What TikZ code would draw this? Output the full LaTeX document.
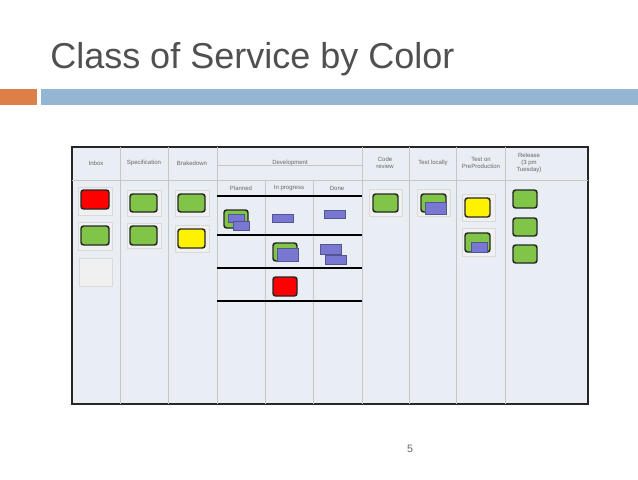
\documentclass[tikz,border=0pt]{standalone}
\usepackage{fontspec}
\setmainfont{Liberation Sans}
\begin{document}
\begin{tikzpicture}[x=0.75pt,y=-0.75pt,
  hdr/.style={font=\fontsize{4.5}{5}\selectfont,text=black!60,align=center,inner sep=0},
  frm/.style={fill=gray!12,draw=gray!30,line width=0.3pt},
  crd/.style={draw=black!85,line width=1.1pt,rounded corners=2pt},
  thick line/.style={line width=1.4pt}]
\definecolor{gcard}{RGB}{128,196,72}
\definecolor{tcard}{RGB}{120,120,210}
\definecolor{board}{RGB}{233,237,244}
\definecolor{obar}{RGB}{221,128,71}
\definecolor{bbar}{RGB}{148,182,210}
\definecolor{ttl}{RGB}{80,80,80}
\tikzset{gc/.style={crd,fill=gcard},tsk/.style={fill=tcard,draw=tcard!70!black,line width=0.3pt}}
\useasboundingbox (0,0) rectangle (638,479);
\fill[white] (0,0) rectangle (638,479);
\node[anchor=base west,inner sep=0,font=\fontsize{27}{30}\selectfont,text=ttl] (title) at (50,68) {Class of Service by Color};
\fill[obar] (0,89) rectangle (37,105);
\fill[bbar] (41,89) rectangle (638,105);
% board
\draw[fill=board,line width=1.5pt,draw=black!85] (72,147) rectangle (588,404);
\foreach \x in {120,168,217,362,409,456,505} \draw[gray!45,line width=0.4pt] (\x,147) -- (\x,404);
\foreach \x in {265,313} \draw[gray!45,line width=0.4pt] (\x,180) -- (\x,404);
\draw[gray!45,line width=0.4pt] (72,180) -- (588,180);
\draw[gray!45,line width=0.4pt] (217,165) -- (362,165);
\foreach \y in {196,235,268,301} \draw[black,thick line] (217,\y) -- (362,\y);
% headers
\node[hdr] (h1) at (96,163) {Inbox};
\node[hdr] (h2) at (144,163) {Specification};
\node[hdr] (h3) at (192,163) {Brakedown};
\node[hdr] (h4) at (290,163) {Development};
\node[hdr] (h41) at (241,188) {Planned};
\node[hdr] (h42) at (289,188) {In progress};
\node[hdr] (h43) at (337,188) {Done};
\node[hdr] (h5) at (385,163) {Code\\review};
\node[hdr] (h6) at (433,163) {Test locally};
\node[hdr] (h7) at (481,163) {Test on\\PreProduction};
\node[hdr] (h8) at (529,163) {Release\\(3 pm\\Tuesday)};
% frames
\draw[frm] (78,187) rectangle (112,215);
\draw[frm] (78,222) rectangle (112,250);
\draw[frm] (79,258) rectangle (112,286);
\draw[frm] (127,190) rectangle (161,216);
\draw[frm] (127,223) rectangle (161,248);
\draw[frm] (175,190) rectangle (209,216);
\draw[frm] (175,225) rectangle (209,252);
\draw[frm] (369,189) rectangle (402,216);
\draw[frm] (417,189) rectangle (450,216);
\draw[frm] (462,194) rectangle (495,221);
\draw[frm] (462,228) rectangle (495,256);
% cards
\draw[crd,fill=red] (81,190) rectangle (109,209);
\draw[gc] (81,226) rectangle (109,245);
\draw[gc] (130,194) rectangle (157,212);
\draw[gc] (130,226) rectangle (157,245);
\draw[gc] (178,194) rectangle (205,212);
\draw[crd,fill=yellow] (178,229) rectangle (205,248);
\draw[gc] (224,210) rectangle (248,228);
\draw[tsk] (228,214) rectangle (244,222);
\draw[tsk] (233,221) rectangle (249,230);
\draw[tsk] (272,214) rectangle (293,222);
\draw[tsk] (324,210) rectangle (345,218);
\draw[gc] (273,243) rectangle (297,261);
\draw[tsk] (277,248) rectangle (298,261);
\draw[tsk] (320,244) rectangle (341,254);
\draw[tsk] (325,255) rectangle (346,264);
\draw[crd,fill=red] (273,277) rectangle (297,296);
\draw[gc] (373,194) rectangle (398,212);
\draw[gc] (421,194) rectangle (446,212);
\draw[tsk] (425,202) rectangle (446,214);
\draw[crd,fill=yellow] (465,198) rectangle (490,217);
\draw[gc] (465,233) rectangle (490,252);
\draw[tsk] (471,242) rectangle (487,252);
\draw[gc] (513,190) rectangle (537,208);
\draw[gc] (513,218) rectangle (537,236);
\draw[gc] (513,245) rectangle (537,263);
\node[font=\fontsize{8}{9}\selectfont,text=black!60] (pg) at (410,449) {5};
\end{tikzpicture}
\end{document}
